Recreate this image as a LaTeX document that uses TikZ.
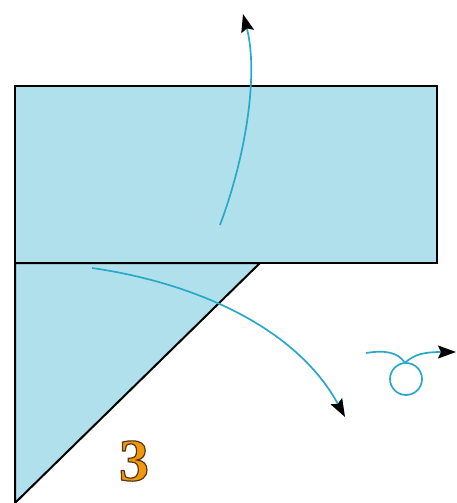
\documentclass[tikz,border=0pt]{standalone}
\usepackage{fontspec}
\newfontfamily\numfont{Liberation Serif}
\usetikzlibrary{arrows.meta}
\definecolor{paper}{HTML}{B0E0EB}
\definecolor{flow}{HTML}{2AA8C8}
\definecolor{numor}{HTML}{F0960F}
\tikzset{
  edge/.style={draw=black, line width=2pt, line join=miter},
  flowarrow/.style={draw=flow, line width=1.7pt, -{Stealth[length=18pt,width=13pt,inset=3pt,black]}},
  flowline/.style={draw=flow, line width=1.7pt},
  numtext/.style={font=\numfont\bfseries\fontsize{60}{60}\selectfont, inner sep=0pt, text=numor}
}
\newcommand{\outlinedigit}[1]{\special{pdf:code 2 Tr 1.2 w 0.33 0.22 0.08 RG}#1\special{pdf:code 0 Tr 0 0 0 RG}}
\begin{document}
\begin{tikzpicture}[x=1pt,y=-1pt]
\useasboundingbox (0,0) rectangle (456,503);
% paper parts
\path[edge, fill=paper] (15,86) rectangle (437,263);
\path[edge, fill=paper] (15,263) -- (260,263) -- (15,503) -- cycle;
% arrows
\coordinate (a1s) at (220,225);
\coordinate (a1e) at (243,14);
\draw[flowarrow] (a1s) .. controls (248,150) and (258,70) .. (a1e);
\coordinate (a2s) at (92,268);
\coordinate (a2e) at (345,417);
\draw[flowarrow] (a2s) .. controls (190,282) and (295,325) .. (a2e);
% loop symbol
\coordinate (ls) at (366,353);
\coordinate (lt) at (405,363);
\coordinate (le) at (456,352);
\draw[flowline] (ls) .. controls (385,350) and (398,352) .. (lt);
\draw[flowline] (406,379) circle[radius=16];
\draw[flowarrow] (lt) .. controls (414,354) and (425,352) .. (le);
% number
\node[numtext] (num) at (134,461) {\outlinedigit{3}};
\end{tikzpicture}
\end{document}
